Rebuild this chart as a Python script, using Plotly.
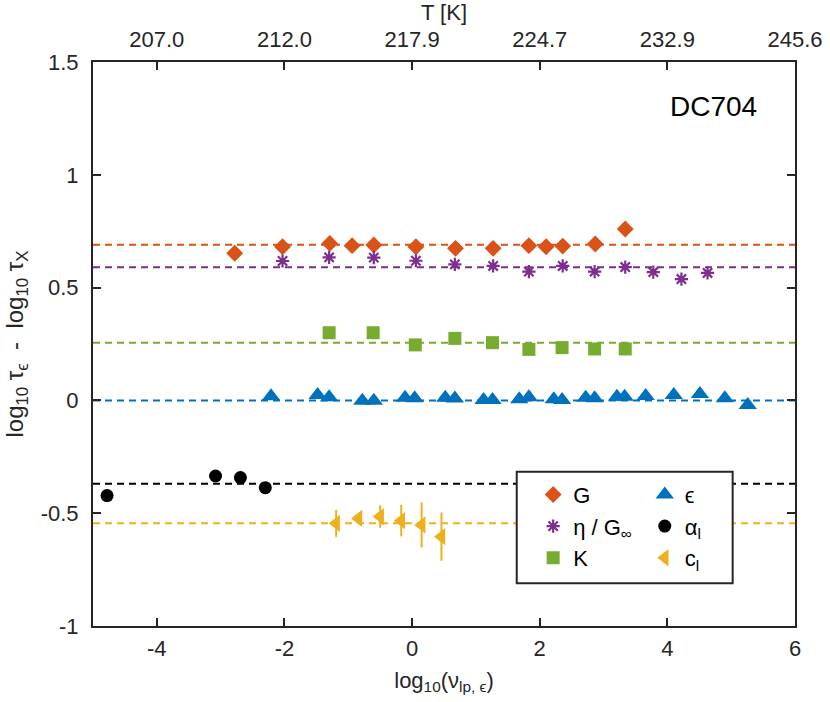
import plotly.graph_objects as go

# ---------------- data ----------------
G_x = [-2.78, -2.03, -1.29, -0.94, -0.60, 0.06, 0.68, 1.27, 1.83, 2.10, 2.36, 2.87, 3.34]
G_y = [0.652, 0.681, 0.696, 0.686, 0.689, 0.681, 0.674, 0.674, 0.686, 0.681, 0.684, 0.693, 0.760]

eta_x = [-2.03, -1.30, -0.60, 0.06, 0.67, 1.27, 1.83, 2.36, 2.86, 3.34, 3.78, 4.22, 4.63]
eta_y = [0.618, 0.634, 0.633, 0.619, 0.603, 0.596, 0.571, 0.596, 0.571, 0.591, 0.569, 0.538, 0.565]

K_x = [-1.30, -0.61, 0.05, 0.67, 1.26, 1.83, 2.35, 2.86, 3.34]
K_y = [0.300, 0.300, 0.246, 0.275, 0.256, 0.226, 0.234, 0.228, 0.228]

eps_x = [-2.21, -1.48, -1.30, -0.78, -0.60, -0.11, 0.04, 0.52, 0.67, 1.12, 1.26, 1.68,
         1.83, 2.22, 2.35, 2.72, 2.86, 3.21, 3.33, 3.66, 4.10, 4.51, 4.90, 5.26]
eps_y = [0.018, 0.024, 0.014, -0.001, -0.001, 0.012, 0.009, 0.012, 0.008, 0.002, 0.002, 0.005,
         0.014, 0.005, 0.002, 0.012, 0.009, 0.016, 0.016, 0.019, 0.024, 0.028, 0.009, -0.020]

alpha_x = [-4.78, -3.08, -2.69, -2.30]
alpha_y = [-0.422, -0.335, -0.342, -0.387]

cl_x = [-1.19, -0.84, -0.50, -0.17, 0.15, 0.46]
cl_y = [-0.545, -0.523, -0.515, -0.533, -0.552, -0.604]
cl_err = [0.060, 0.015, 0.050, 0.070, 0.100, 0.107]

# mean levels (dashed reference lines)
ref_levels = [0.69, 0.59, 0.255, 0.0, -0.37, -0.545]

# axis ticks
x_ticks = [-4, -2, 0, 2, 4, 6]
x_ticktext = ["-4", "-2", "0", "2", "4", "6"]
y_ticks = [-1, -0.5, 0, 0.5, 1, 1.5]
y_ticktext = ["-1", "-0.5", "0", "0.5", "1", "1.5"]
T_ticks = [-4, -2, 0, 2, 4, 6]
T_labels = ["207.0", "212.0", "217.9", "224.7", "232.9", "245.6"]

# ---------------- style ----------------
C_G = "#D95319"
C_ETA = "#7E2F8E"
C_K = "#77AC30"
C_EPS = "#0072BD"
C_ALPHA = "#000000"
C_CL = "#EDB120"
ref_colors = [C_G, C_ETA, C_K, C_EPS, C_ALPHA, C_CL]
AX = "#262626"
FONT = "Liberation Sans, Arial, Helvetica, sans-serif"

fig = go.Figure()

# reference lines
for lvl, col in zip(ref_levels, ref_colors):
    fig.add_hline(y=lvl, line=dict(color=col, width=2, dash="7px,5px"), layer="below")

fig.add_trace(go.Scatter(x=G_x, y=G_y, mode="markers", name="G", legend="legend",
                         marker=dict(symbol="diamond", size=13, color=C_G)))
fig.add_trace(go.Scatter(x=eta_x, y=eta_y, mode="markers", name="η / G<sub>∞</sub>", legend="legend",
                         marker=dict(symbol="asterisk-open", size=11, color=C_ETA,
                                     line=dict(color=C_ETA, width=2.2))))
fig.add_trace(go.Scatter(x=K_x, y=K_y, mode="markers", name="K", legend="legend",
                         marker=dict(symbol="square", size=13, color=C_K)))
fig.add_trace(go.Scatter(x=eps_x, y=eps_y, mode="markers", name="ϵ", legend="legend2",
                         marker=dict(symbol="triangle-up", size=16, color=C_EPS)))
fig.add_trace(go.Scatter(x=alpha_x, y=alpha_y, mode="markers", name="α<sub>l</sub>", legend="legend2",
                         marker=dict(symbol="circle", size=13, color=C_ALPHA)))
fig.add_trace(go.Scatter(x=cl_x, y=cl_y, mode="markers", name="c<sub>l</sub>", legend="legend2",
                         marker=dict(symbol="triangle-left", size=15, color=C_CL),
                         error_y=dict(type="data", array=cl_err, visible=True, color=C_CL,
                                      thickness=2, width=0)))

# empty carrier trace so that the top temperature axis is drawn
fig.add_trace(go.Scatter(x=T_ticks, y=[None] * len(T_ticks), xaxis="x2", yaxis="y",
                         mode="markers", showlegend=False, hoverinfo="skip"))

fig.update_layout(
    xaxis2=dict(overlaying="x", side="top", anchor="y", range=[-5, 6],
                tickmode="array", tickvals=T_ticks, ticktext=T_labels,
                ticks="inside", ticklen=8, tickwidth=2, tickcolor=AX,
                showline=False, showgrid=False, zeroline=False,
                ticklabelstandoff=10,
                tickfont=dict(size=22, color=AX, family=FONT),
                title=dict(text="T [K]", font=dict(size=22, color=AX, family=FONT), standoff=4)),
    xaxis=dict(range=[-5, 6], tickmode="array", tickvals=x_ticks, ticktext=x_ticktext,
               ticks="inside", ticklen=8, tickwidth=2, tickcolor=AX,
               showline=True, linewidth=2, linecolor=AX, mirror="ticks",
               showgrid=False, zeroline=False, ticklabelstandoff=2,
               tickfont=dict(size=22, color=AX, family=FONT),
               title=dict(text="log<sub>10</sub>(ν<sub>lp, ϵ</sub>)",
                          font=dict(size=22, color=AX, family=FONT), standoff=12)),
    yaxis=dict(range=[-1, 1.5], tickmode="array", tickvals=y_ticks, ticktext=y_ticktext,
               ticks="inside", ticklen=8, tickwidth=2, tickcolor=AX,
               showline=True, linewidth=2, linecolor=AX, mirror="ticks",
               showgrid=False, zeroline=False, ticklabelstandoff=8,
               tickfont=dict(size=22, color=AX, family=FONT),
               title=dict(text="log<sub>10</sub> τ<sub>ϵ</sub>  -  log<sub>10</sub> τ<sub>X</sub>",
                          font=dict(size=24, color=AX, family=FONT), standoff=10)),
    width=830, height=702,
    margin=dict(l=93, r=35, t=62, b=76, autoexpand=False),
    paper_bgcolor="white", plot_bgcolor="white",
    font=dict(family=FONT, size=22, color=AX),
    legend=dict(x=0.627, y=0.27, xanchor="left", yanchor="top", bgcolor="rgba(0,0,0,0)",
                font=dict(size=22, color="#000000", family=FONT),
                itemsizing="trace"),
    legend2=dict(x=0.786, y=0.27, xanchor="left", yanchor="top", bgcolor="rgba(0,0,0,0)",
                 font=dict(size=22, color="#000000", family=FONT),
                 itemsizing="trace"),
    showlegend=True,
)

# legend box
fig.add_shape(type="rect", xref="paper", yref="paper",
              x0=0.6036, x1=0.9112, y0=0.0757, y1=0.2736,
              line=dict(color=AX, width=2), fillcolor="white", layer="above")

fig.add_annotation(text="DC704", xref="paper", yref="paper", x=0.884, y=0.921,
                   xanchor="center", yanchor="middle", showarrow=False,
                   font=dict(size=28, color="#000000", family=FONT))

fig.write_html("out.html", config={"displayModeBar": False},
               post_script="document.body.style.margin='0px';document.body.style.overflow='hidden';")
